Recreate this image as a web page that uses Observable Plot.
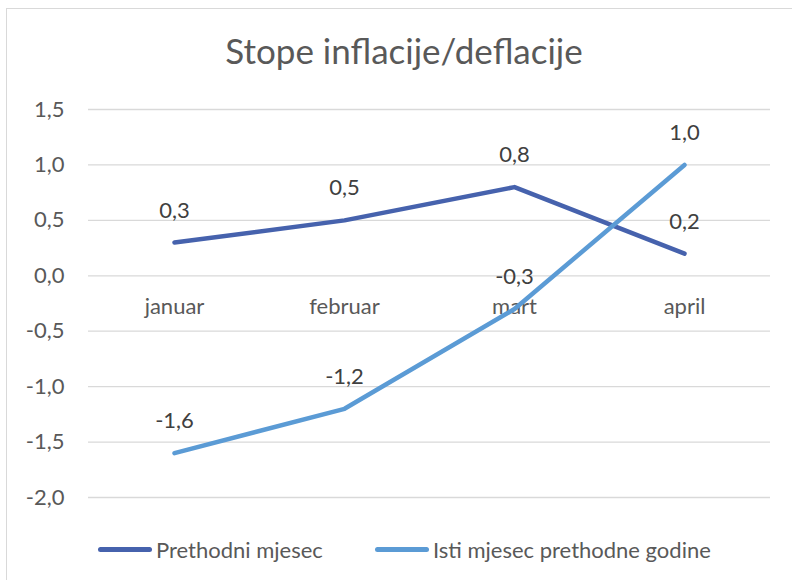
<!DOCTYPE html>
<html>
<head>
<meta charset="utf-8">
<script src="https://cdn.jsdelivr.net/npm/d3@7"></script>
<script src="https://cdn.jsdelivr.net/npm/@observablehq/plot@0.6"></script>
<style>
  html, body { margin: 0; padding: 0; background: #fff; width: 792px; height: 580px; overflow: hidden; }
  body { position: relative; font-family: Lato, "Open Sans", sans-serif; color: #595959; }
  #frame { position: absolute; left: 6px; top: 8px; width: 800px; height: 600px; border: 1.5px solid #d9d9d9; box-sizing: border-box; }
  #title { position: absolute; left: 0; top: 29px; width: 808px; text-align: center; font-size: 35px; color: #595959; }
  #chart { position: absolute; left: 0; top: 80px; }
  #legend { position: absolute; left: 98px; top: 536px; display: flex; align-items: center; font-size: 22px; color: #595959; }
  .item { display: flex; align-items: center; margin-right: 52px; }
  .sw { display: inline-block; width: 54px; height: 5px; border-radius: 3px; margin-right: 4px; }
</style>
</head>
<body>
<div id="frame"></div>
<div id="title">Stope inflacije/deflacije</div>
<div id="chart"></div>
<div id="legend"></div>
<script>
const months = ["januar", "februar", "mart", "april"];
const prethodniMjesec = [0.3, 0.5, 0.8, 0.2];
const istiMjesecPrethodneGodine = [-1.6, -1.2, -0.3, 1.0];
const seriesNames = ["Prethodni mjesec", "Isti mjesec prethodne godine"];
const seriesColors = ["#4662AD", "#5B9BD5"];
const yTicks = [-2.0, -1.5, -1.0, -0.5, 0.0, 0.5, 1.0, 1.5];

const fmt = d => (d < 0 ? "-" : "") + Math.abs(d).toFixed(1).replace(".", ",");

const data = [];
[prethodniMjesec, istiMjesecPrethodneGodine].forEach((vals, si) => {
  vals.forEach((v, i) => data.push({ series: seriesNames[si], month: months[i], value: v }));
});

const chart = Plot.plot({
  width: 792,
  height: 440,
  marginLeft: 88,
  marginRight: 22,
  marginTop: 29,
  marginBottom: 23,
  style: { fontFamily: "Lato, 'Open Sans', sans-serif", fontSize: "22px", color: "#595959", background: "transparent" },
  x: { type: "point", domain: months, padding: 0.5, axis: null },
  y: { domain: [-2.0, 1.5], ticks: yTicks, tickFormat: fmt, label: null, tickSize: 0, tickPadding: 24 },
  color: { domain: seriesNames, range: seriesColors },
  marks: [
    Plot.gridY(yTicks, { stroke: "#d9d9d9", strokeOpacity: 1, strokeWidth: 1.3 }),
    Plot.axisY(yTicks, { tickFormat: fmt, tickSize: 0, tickPadding: 24, fontSize: 22, fill: "#595959", label: null }),
    Plot.text(months, { x: d => d, y: () => 0, dy: 31, text: d => d, fontSize: 22, fill: "#595959" }),
    Plot.line(data, { x: "month", y: "value", z: "series", stroke: "series", strokeWidth: 4.5, strokeLinecap: "round", strokeLinejoin: "round" }),
    Plot.text(data, { x: "month", y: "value", text: d => fmt(d.value), dy: -32, fontSize: 22, fill: "#404040" })
  ]
});
document.getElementById("chart").appendChild(chart);

const legend = document.getElementById("legend");
seriesNames.forEach((name, i) => {
  const item = document.createElement("div");
  item.className = "item";
  const sw = document.createElement("span");
  sw.className = "sw";
  sw.style.background = seriesColors[i];
  const label = document.createElement("span");
  label.textContent = name;
  item.appendChild(sw);
  item.appendChild(label);
  legend.appendChild(item);
});
</script>
</body>
</html>
